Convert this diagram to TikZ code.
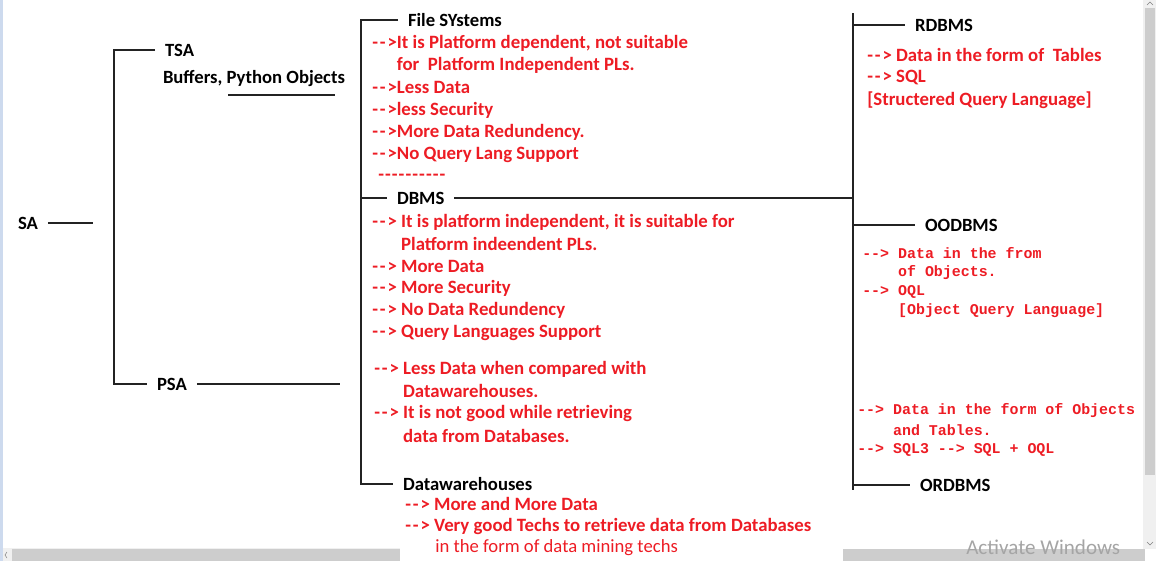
\documentclass[tikz,border=0pt]{standalone}
\usepackage{fontspec}
\newfontfamily\uifont{Carlito}
\newfontfamily\codefont{Liberation Mono}
\definecolor{txtred}{RGB}{237,28,36}
\definecolor{linegray}{RGB}{35,35,35}
\definecolor{barback}{RGB}{240,240,240}
\definecolor{barthumb}{RGB}{205,205,205}
\definecolor{edgeblue}{RGB}{205,218,238}
\definecolor{markgray}{RGB}{165,165,165}
\newcommand{\arw}{-\kern1.4pt-\kern1.4pt>}

\tikzset{
  headtxt/.style={font=\uifont\bfseries\fontsize{14}{16}\selectfont, anchor=west, inner sep=0pt, outer xsep=7.5pt},
  redtxt/.style={font=\uifont\bfseries\fontsize{14.1}{16}\selectfont, text=txtred, anchor=west, inner sep=0pt},
  codetxt/.style={font=\codefont\bfseries\fontsize{11.2}{13}\selectfont, text=txtred, anchor=west, inner sep=0pt},
  branch/.style={draw=linegray, line width=1.4pt},
}

\begin{document}
\begin{tikzpicture}[x=0.75pt, y=-0.75pt]
  \useasboundingbox (0,0) rectangle (1162,561);

  % window edges and scroll bars
  \fill[edgeblue] (0,0) rectangle (3,561);
  \fill[barback] (1143,0) rectangle (1156,549);
  \fill[barthumb] (1145,8) rectangle (1155,475);
  \fill[barback] (3,548) rectangle (400,561);
  \fill[barthumb] (12,549) rectangle (400,561);
  \fill[barthumb] (843,549) rectangle (1145,561);
  \draw[gray] (1147,5) -- (1150,2) -- (1153,5);
  \draw[gray] (1147,542) -- (1150,545) -- (1153,542);
  \draw[gray] (7,552) -- (5,555) -- (7,558);

  % headings
  \node[headtxt] (sa) at (8,223) {SA};
  \node[headtxt] (tsa) at (155,50) {TSA};
  \node[headtxt] (buf) at (153,79) {Buffers, Python Objects};
  \node[headtxt] (psa) at (147,384) {PSA};
  \node[headtxt] (fs) at (398,20) {File SYstems};
  \node[headtxt] (dbms) at (387,198) {DBMS};
  \node[headtxt] (dw) at (393,484) {Datawarehouses};
  \node[headtxt] (rdbms) at (905,25) {RDBMS};
  \node[headtxt] (oodbms) at (915,225) {OODBMS};
  \node[headtxt] (ordbms) at (910,485) {ORDBMS};

  % tree lines
  \coordinate (saend) at (93,223);
  \coordinate (lspine) at (114,384);
  \coordinate (psaend) at (340,384);
  \coordinate (mspine) at (361,484);
  \coordinate (rtop) at (853,13);
  \coordinate (rbot) at (853,490);

  \draw[branch] (sa) -- (saend);
  \draw[branch] (tsa.west) -| (lspine) -- (psa.west);
  \draw[branch] (psa) -- (psaend);
  \draw[branch] (fs.west) -| (mspine) -- (dw.west);
  \draw[branch] (mspine |- dbms.west) -- (dbms.west);
  \draw[branch] (dbms.east) -- (rtop |- dbms.east);
  \draw[branch] (rtop) -- (rbot);
  \draw[branch] (rtop |- rdbms.west) -- (rdbms.west);
  \draw[branch] (rtop |- oodbms.west) -- (oodbms.west);
  \draw[branch] (rtop |- ordbms.west) -- (ordbms.west);
  \draw[branch, line width=1.2pt] (228,95) -- (335,95);

  % File SYstems
  \foreach \ln [count=\i] in {{\arw It is Platform dependent, not suitable},
      {\hphantom{\arw}for\ \ Platform Independent PLs.}, {\arw Less Data},
      {\arw less Security}, {\arw More Data Redundency.}, {\arw No Query Lang Support}}
    \node[redtxt] (fsnote\i) at (372,{43+22.4*(\i-1)}) {\ln};
  \node[redtxt] (fsdash) at (378,177) {-\kern0.8pt-\kern0.8pt-\kern0.8pt-\kern0.8pt-\kern0.8pt-\kern0.8pt-\kern0.8pt-\kern0.8pt-\kern0.8pt-};

  % DBMS
  \foreach \ln [count=\i] in {{\arw\ It is platform independent, it is suitable for},
      {\hphantom{\arw\ }Platform indeendent PLs.}, {\arw\ More Data},
      {\arw\ More Security}, {\arw\ No Data Redundency}, {\arw\ Query Languages Support}}
    \node[redtxt] (dbnote\i) at (372,{222+22.2*(\i-1)}) {\ln};

  % PSA
  \foreach \ln [count=\i] in {{\arw\ Less Data when compared with},
      {\hphantom{\arw\ }Datawarehouses.}, {\arw\ It is not good while retrieving},
      {\hphantom{\arw\ }data from Databases.}}
    \node[redtxt] (psanote\i) at (374,{369+22.3*(\i-1)}) {\ln};

  % Datawarehouses
  \node[redtxt] (dwnote1) at (405,504) {\arw\ More and More Data};
  \node[redtxt] (dwnote2) at (405,526) {\arw\ Very good Techs to retrieve data from Databases};
  \node[redtxt, font=\uifont\fontsize{14}{16}\selectfont] (dwnote3) at (435,548) {in the form of data mining techs};

  % RDBMS
  \foreach \ln [count=\i] in {{\arw\ Data in the form of\ \ Tables}, {\arw\ SQL},
      {[Structered Query Language]}}
    \node[redtxt] (rdnote\i) at (867,{55+22.5*(\i-1)}) {\ln};

  % OODBMS
  \foreach \ln [count=\i] in {{--> Data in the from}, {\hphantom{-->\ }of Objects.},
      {--> OQL}, {\hphantom{-->\ }[Object Query Language]}}
    \node[codetxt] (oonote\i) at (862,{253+19.3*(\i-1)}) {\ln};

  % ORDBMS
  \foreach \ln [count=\i] in {{--> Data in the form of Objects},
      {\hphantom{-->\ }and Tables.}, {--> SQL3 --> SQL + OQL}}
    \node[codetxt] (ornote\i) at (857,{411+19.5*(\i-1)}) {\ln};

  \node[anchor=west, inner sep=0pt, font=\uifont\fontsize{15.8}{17}\selectfont, text=markgray] (winmark) at (966,547) {Activate Windows};
\end{tikzpicture}
\end{document}
